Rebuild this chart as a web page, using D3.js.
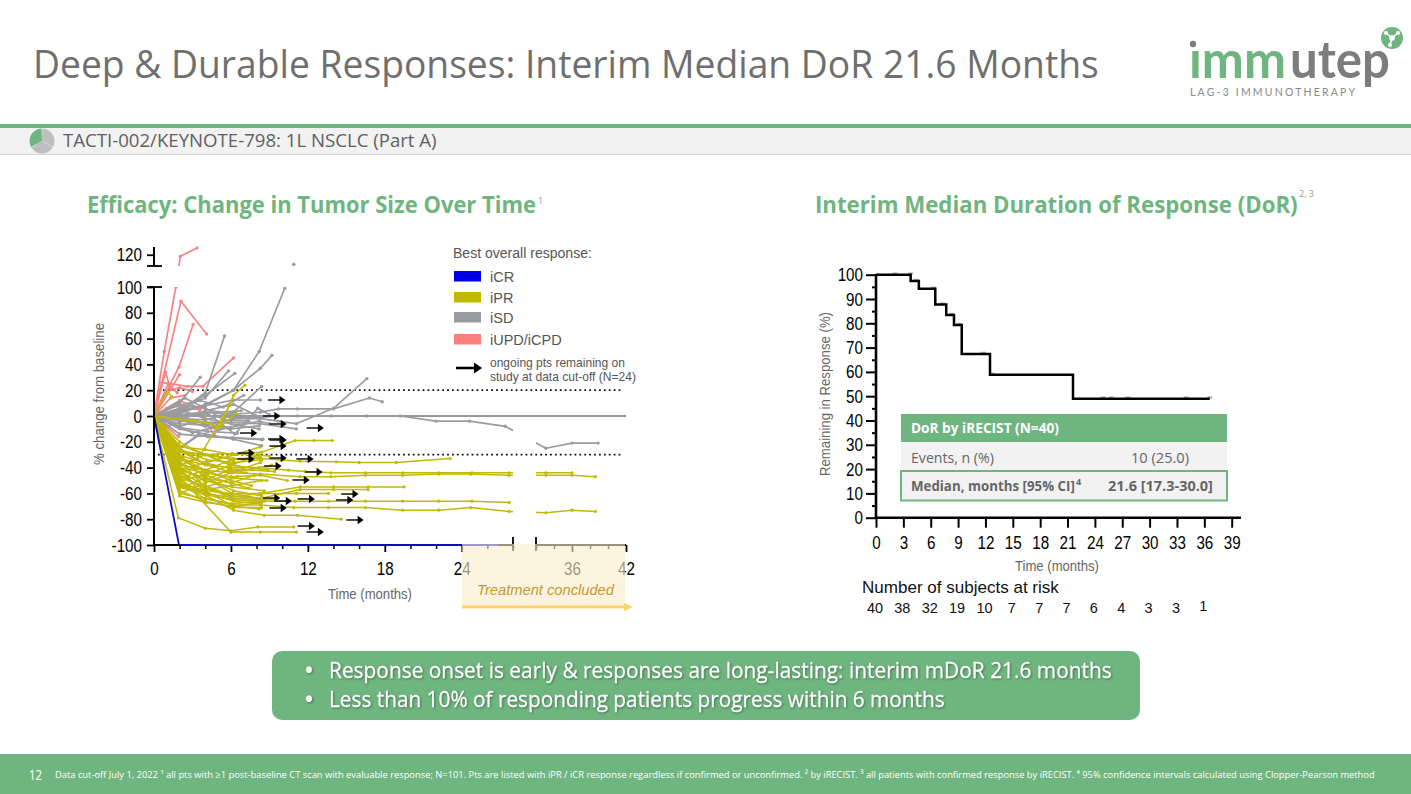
<!DOCTYPE html>
<html><head><meta charset="utf-8">
<script src="https://cdn.jsdelivr.net/npm/d3@7"></script>
<style>html,body{margin:0;padding:0;background:#fff}svg{display:block}text{font-family:"Liberation Sans",Arial,sans-serif}</style>
</head><body><svg id="c" width="1411" height="794"></svg>
<script>
const titleText="Deep & Durable Responses: Interim Median DoR 21.6 Months";
const bannerText="TACTI-002/KEYNOTE-798: 1L NSCLC (Part A)";
const leftHeading="Efficacy: Change in Tumor Size Over Time";
const rightHeading="Interim Median Duration of Response (DoR)";
const bullets=["Response onset is early & responses are long-lasting: interim mDoR 21.6 months","Less than 10% of responding patients progress within 6 months"];
const footnote="Data cut-off July 1, 2022 \u00b9 all pts with \u22651 post-baseline CT scan with evaluable response; N=101. Pts are listed with iPR / iCR response regardless if confirmed or unconfirmed. \u00b2 by iRECIST. \u00b3 all patients with confirmed response by iRECIST. \u2074 95% confidence intervals calculated using Clopper-Pearson method";
const legendLabels=["iCR","iPR","iSD","iUPD/iCPD"];
const legendColors=["#0000e6","#c2ba00","#9a9aa2","#ff8080"];
const yTicksLeft=[-100,-80,-60,-40,-20,0,20,40,60,80,100,120];
const xTicksLeft=[0,6,12,18,24,36,42];
const xMinorLeft=[2,4,8,10,14,16,20,22,26,28,32,34,38,40];
const iCR=[[[0,0],[1.95,-100],[4,-100],[6,-100],[8,-100],[10.2,-100],[12,-100],[14,-100],[16,-100],[18.1,-100],[20.4,-100],[23.2,-100],[26.8,-100]]];
const iPR=[
[[0,0],[2,-28],[4,-30],[6.2,-33],[8.3,-33],[11.4,-35],[14.2,-35.5],[16,-36],[18.9,-36],[23.1,-33]],
[[0,0],[2,-33],[4,-38],[6,-40],[8.2,-40],[10.5,-42],[11.8,-43],[13.8,-44],[16.5,-44],[19.4,-44],[22.2,-44],[24.8,-44],[27.7,-44],[33.1,-44],[36,-44]],
[[0,0],[2,-38],[4,-42],[6,-44],[8.3,-45],[11.4,-47],[13.8,-47],[16.5,-46],[19.4,-46],[22.2,-45],[24.7,-45],[27.7,-46],[33.1,-46],[36,-46],[38.6,-47]],
[[0,0],[2,-50],[4,-60],[6,-63],[8.3,-60],[11.4,-55],[14,-55],[16.7,-55],[19.5,-55]],
[[0,0],[2,-46],[4,-56],[6,-62],[8.3,-64],[11.4,-57],[14,-57],[16.7,-57]],
[[0,0],[2,-52],[4,-58],[6,-60],[8.4,-60],[11.1,-60],[13.6,-60]],
[[0,0],[2,-55],[4,-61],[6.2,-65],[8.3,-66],[11,-66],[13.6,-66],[16.5,-66],[19.4,-66],[22.2,-66],[24.8,-66],[27.7,-67]],
[[0,0],[2,-60],[4,-64],[6.2,-69],[8.3,-69],[10.9,-71],[13.6,-71],[16.5,-71],[19.4,-73],[22.2,-73],[24.7,-71],[27.7,-74],[33.1,-75],[36,-73],[38.6,-74]],
[[0,0],[2,-52],[4.1,-62],[6.2,-73],[8.6,-77],[11.2,-77],[14.6,-80]],
[[0,0],[1.9,-79],[4,-87],[6,-89],[8.1,-86],[10.9,-86]],
[[0,0],[2,-47],[6,-90],[8.3,-90],[11.1,-90]],
[[0,0],[2,-24],[4,-26],[6.1,-30],[8.4,-28],[11,-19],[12.5,-19],[13.9,-19]],
[[0,0],[2,-40],[4,-44],[6,-47],[8.3,-46],[10.4,-50]],
[[0,0],[1.9,-22],[4,-30],[6.1,-29],[9,-31]],
[[0,0],[2,-26],[4.1,-34],[6.2,-36],[8.4,-34]],
[[0,0],[1.8,-30],[3.9,-36],[6,-41],[9.4,-43]],
[[0,0],[2.1,-34],[4.2,-44],[6.2,-48],[8.8,-50]],
[[0,0],[2,-36],[4,-46],[6,-52],[7.4,-56]],
[[0,0],[1.9,-40],[4,-50],[6.1,-55],[8.6,-58]],
[[0,0],[2,-42],[4.1,-48],[6.2,-58],[8.4,-62]],
[[0,0],[2.2,-44],[4,-54],[6,-64],[9.5,-65]],
[[0,0],[1.9,-48],[4,-54],[6.1,-62],[7.2,-63]],
[[0,0],[2,-54],[4.2,-60],[6.2,-66],[8.3,-68]],
[[0,0],[2,-58],[4,-66],[6.2,-71],[8.4,-71]],
[[0,0],[2,-62],[4.1,-67],[6.2,-70],[8.4,-67]],
[[0,0],[2,-30],[4,-48],[6.1,-60],[8.3,-64]],
[[0,0],[2,-60],[4,-52],[6,-44],[8.3,-36]],
[[0,0],[2,-50],[4.2,-45],[6,-38],[8.2,-30]],
[[0,0],[2,-42],[4.1,-36],[6.3,-30],[8.3,-24]],
[[0,0],[2,-56],[4,-48],[6,-52],[7.8,-46]],
[[0,0],[2.1,-38],[4,-30],[5.9,-38],[8.9,-42]],
[[0,0],[1.6,-35],[3.5,-58],[6,-54],[8.4,-50]],
[[0,0],[2,-20],[3.1,-26],[5,-34],[7,-40]],
[[0,0],[2,-48],[4,-42],[6,-50],[7.6,-54]],
[[0,0],[2,-44],[4,-58],[6.2,-70],[8.2,-72]],
[[0,0],[1.9,-52],[4,-64],[6,-68],[8.6,-66]],
[[0,0],[2,-40],[3.9,-50],[5.8,-42],[7.2,-44]],
[[0,0],[2,-32],[4,-42],[6,-34],[8.2,-32]],
[[0,0],[2.2,-28],[4.2,-38],[6.1,-44],[9.2,-38]],
[[0,0],[1.9,-34],[4,-55],[5,-52],[6.5,-47]],
[[0,0],[2,-27],[4,-30],[6.2,-34],[8.3,-32]],
[[0,0],[3,-4],[4.1,-5],[5.1,-9],[6.2,16],[7.1,24]],
[[0,0],[4.1,-5],[5.1,-9],[6.4,2]],
[[0,0],[2,-25],[3.4,-34],[5.9,8]],
[[0,0],[1,19],[1.4,15]]
];
const iSD=[
[[0,0],[2,1],[4,0],[6.2,-1],[8.3,-1],[9.7,0],[11.2,0],[13.8,0],[16.6,0],[19.2,0],[22,-4],[24.6,-4],[27.4,-8],[33.1,-25],[36,-21],[38.9,-21]],
[[0,0],[2,3],[4,8],[6.2,20],[8.2,50],[10.2,99],[10.9,111.5]],
[[0,0],[2,4],[4,18],[5.5,62]],
[[0,0],[2,2],[4,9],[6.2,20],[8.3,37],[9.2,47]],
[[0,0],[2,6],[4,14],[5.8,35]],
[[0,0],[2,5],[4,16],[6.3,33]],
[[0,0],[2,10],[3.6,30]],
[[0,0],[2,-2],[4,-3],[6.2,3],[8.4,23]],
[[0,0],[2,4],[4,8],[6.2,12.4],[8.3,12.4]],
[[0,0],[2,-1],[4.2,2],[6.3,-14],[8.1,6],[9,1]],
[[0,0],[2,-4],[4,-5],[6,-5],[8.3,-6],[11.1,-10]],
[[0,0],[2,-6],[4.2,-7],[6.2,-2],[8.3,-2],[9.7,-4],[11.1,-6],[14,6],[16.6,29]],
[[0,0],[2,1],[4,3],[6,1],[8.3,3],[9.7,5.5],[11.2,5.5],[14,5.5],[16.8,14],[17.8,11]],
[[0,0],[2,-3],[4,-8],[6,-10],[8.2,-7.5]],
[[0,0],[2,-9],[4.2,-12],[6.5,-13.2]],
[[0,0],[2,-25],[3.5,-15],[6.1,-17],[8.5,-18]],
[[0,0],[2,-14],[4.2,-16],[6.2,-17],[8.4,-18.4]],
[[0,0],[2,-10],[4,-14],[6.2,-18],[8.4,-23]],
[[0,0],[2,-2],[4,-6],[5.8,-9],[8.2,-4],[9,-6]],
[[0,0],[1.5,-18],[2,-25],[3.5,-14]],
[[0,0],[2,-3],[4,4],[6.2,9],[8.3,-1]],
[[0,0],[2,5],[4,-2],[6,-6],[8.2,-10]],
[[0,0],[1.5,3],[3,8],[5,3],[6.8,4]],
[[0,0],[1.8,8],[3.6,12],[5.4,7],[7,16]],
[[0,0],[2,-8],[3.4,-4],[5,-11],[6.6,-7]],
[[0,0],[1.4,-6],[3,-13],[4.6,-9],[6,2]],
[[0,0],[2.4,14],[4,6],[5.4,-3],[7.4,-4]]
];
const iUPD=[
[[0,0],[0.8,50],[1.7,100],[2.05,118.6],[3.35,126]],
[[0,0],[2.1,89],[4.1,63.5]],
[[0,0],[1.95,38],[3.05,71]],
[[0,0],[2,32]],
[[0,0],[0.6,26],[2.6,23],[3.8,23],[6.2,45]],
[[0,0],[1,19],[2,22],[3,19]],
[[0,0],[1.6,9],[2.6,6],[3.6,5]],
[[0,0],[2,12],[3.4,6],[4,-5],[4.7,-14]],
[[0,0],[1.9,-16]],
[[0,0],[1,6],[2.2,8],[3,7]],
[[0,0],[1,-8],[2,-5]],
[[0,0],[1.1,25],[1.8,18]],
[[0,0],[1.3,14],[2.4,16]],
[[0,0],[0.9,34],[1.3,21]]
];
const ongoingArrows=[[8.9,12.4],[8.5,0],[9,-6.2],[11.9,-9.3],[6.7,-13.2],[8.9,-17.8],[9,-18.6],[9,-23.3],[6.5,-28.7],[6.5,-33.3],[9,-32.6],[11.1,-33.3],[8.6,-38.8],[11.8,-43.4],[10.8,-49.6],[14.6,-60.5],[8.5,-63.6],[9.4,-65.9],[11.2,-64.3],[14.2,-65.1],[9,-71.3],[15,-80.6],[11.2,-85.3],[11.9,-89.9]];
const kmTimes=[0,3.8,4.7,6.5,7.7,8.55,9.4,12.5,21.6,36.6];
const kmSurvival=[100,97.4,94.2,87.7,83.4,79.3,67.4,58.8,49,49];
const kmCensorT=[2.1,3.8,4.4,6.3,7.3,8.3,9.1,11.75,12.7,24.9,25.8,27.6,34,36.6];
const kmCensorS=[100,100,97.4,94.2,87.7,83.4,79.3,67.4,58.8,49,49,49,49,49];
const riskTimes=[0,3,6,9,12,15,18,21,24,27,30,33,36];
const riskCounts=[40,38,32,19,10,7,7,7,6,4,3,3,1];
const kmXTicks=d3.range(0,40,3);

const svg=d3.select("#c");
const GREEN="#6fb57f",OS='"Open Sans",sans-serif';
function txt(x,y,s,o={}){const t=svg.append("text").attr("x",x).attr("y",y).text(s)
 .attr("fill",o.fill||"#000").attr("font-size",o.size||14).attr("text-anchor",o.anchor||"start");
 if(o.font)t.style("font-family",o.font);if(o.weight)t.attr("font-weight",o.weight);if(o.italic)t.attr("font-style","italic");
 if(o.len){
  if(o.rot)t.attr("textLength",o.len).attr("lengthAdjust","spacingAndGlyphs");
  else if(o.adjust)t.attr("textLength",o.len).attr("lengthAdjust",o.adjust);
  else{const sx=o.len/t.node().getComputedTextLength();t.attr("transform",`translate(${x},${y}) scale(${sx},1) translate(${-x},${-y})`);}
 }
 return t;}
function sqTicks(g,sx){g.selectAll("text").attr("transform",`scale(${sx},1)`).attr("fill","#000");}
const TICK_FONT=19,TICK_SX=.8;

// slide chrome
txt(33,78,titleText,{size:38,font:OS,fill:"#6f6f6f",len:1066});
svg.append("rect").attr("x",0).attr("y",128).attr("width",1411).attr("height",27).attr("fill","#f2f2f2");
svg.append("rect").attr("x",0).attr("y",154).attr("width",1411).attr("height",1).attr("fill","#d4d4d4");
svg.append("rect").attr("x",0).attr("y",124).attr("width",1411).attr("height",4).attr("fill",GREEN);
const pie=svg.append("g").attr("transform","translate(42,141)");
d3.pie().sort(null)([1,1,1]).forEach((d,i)=>{
 const a=d3.arc().innerRadius(0).outerRadius(12.5).padAngle(0.06);
 pie.append("path").attr("d",a(d)).attr("fill",["#bfbfbf","#bfbfbf",GREEN][i]);
});
txt(63,147.5,bannerText,{size:19,font:OS,fill:"#606060",len:374});
txt(87,213,leftHeading,{size:24,font:OS,weight:700,fill:GREEN,len:449});
txt(538,204,"1",{size:9,font:OS,fill:"#999"});
txt(815,213,rightHeading,{size:24,font:OS,weight:700,fill:GREEN,len:483});
txt(1299,197,"2, 3",{size:9,font:OS,fill:"#999"});

// logo
txt(1189,78,"\u0131mm",{size:52,font:"Lato,sans-serif",weight:700,fill:GREEN,len:97});
txt(1290,78,"utep",{size:52,font:"Lato,sans-serif",weight:700,fill:"#7d7d7d",len:100});
svg.append("circle").attr("cx",1193).attr("cy",44).attr("r",3.2).attr("fill","#7d7d7d");
txt(1190,96,"LAG-3 IMMUNOTHERAPY",{size:10.5,font:"Lato,sans-serif",fill:"#8a8a8a",len:165,adjust:"spacing"});
svg.append("circle").attr("cx",1392).attr("cy",38).attr("r",11).attr("fill",GREEN);
[[1386,33,1392,38],[1398,33,1392,38],[1392,38,1390,45]].forEach(l=>svg.append("line").attr("x1",l[0]).attr("y1",l[1]).attr("x2",l[2]).attr("y2",l[3]).attr("stroke","#fff").attr("stroke-width",1.5));
[[1386,33,2],[1398,33,2],[1390,45,2],[1392,38,2.8]].forEach(c=>svg.append("circle").attr("cx",c[0]).attr("cy",c[1]).attr("r",c[2]).attr("fill","#fff"));

// left chart scales
const x=d3.scaleLinear().domain([0,28,32,42]).range([154,513,536,626]);
const y=d3.scaleLinear().domain([-100,100,110,126]).range([545,287,266,248]);
const defs=svg.append("defs");
defs.append("clipPath").attr("id","gapX").selectAll("rect").data([[0,513],[536,700]]).join("rect")
 .attr("x",d=>d[0]).attr("width",d=>d[1]-d[0]).attr("y",0).attr("height",794);
defs.append("clipPath").attr("id","gapY").selectAll("rect").data([[0,266],[287,794]]).join("rect")
 .attr("y",d=>d[0]).attr("height",d=>d[1]-d[0]).attr("x",0).attr("width",1411);

// zero + reference lines
svg.append("line").attr("x1",x(0)).attr("x2",x(42)).attr("y1",y(0)).attr("y2",y(0)).attr("stroke","#333").attr("stroke-width",1.1);
[20,-30].forEach(v=>svg.append("line").attr("x1",158).attr("x2",622).attr("y1",y(v)).attr("y2",y(v))
 .attr("stroke","#111").attr("stroke-width",1.7).attr("stroke-dasharray","1.8 3.1"));

const plot=svg.append("g").attr("clip-path","url(#gapX)").append("g").attr("clip-path","url(#gapY)");
const ln=d3.line().x(d=>x(d[0])).y(d=>y(d[1]));
function drawGroup(data,col,w,r){
 const g=plot.append("g");
 g.selectAll("path").data(data).join("path").attr("d",ln).attr("fill","none").attr("stroke",col).attr("stroke-width",w).attr("stroke-linejoin","round");
 g.selectAll("circle").data(data.flatMap(s=>s.slice(1))).join("circle").attr("cx",d=>x(d[0])).attr("cy",d=>y(d[1])).attr("r",r).attr("fill",col);
}
drawGroup(iUPD,"#f88585",1.7,1.7);
drawGroup(iSD,"#9c9ca0",1.7,1.7);
drawGroup(iPR,"#c1b907",1.5,1.6);
drawGroup(iCR,"#0c0cc8",1.8,0.9);

// left axes
const axisCol="#000";
const yLow=svg.append("g").attr("transform","translate(154,0)").call(d3.axisLeft(y).tickValues(yTicksLeft).tickSize(7).tickFormat(d=>String(d)));
yLow.select(".domain").remove();yLow.selectAll("line").attr("stroke",axisCol).attr("stroke-width",1.8);
yLow.selectAll("text").attr("font-size",TICK_FONT).style("font-family",'"Liberation Sans"').attr("x",-12/TICK_SX);sqTicks(yLow,TICK_SX);
[[287,545],[247,266]].forEach(a=>svg.append("line").attr("x1",154).attr("x2",154).attr("y1",a[0]).attr("y2",a[1]).attr("stroke",axisCol).attr("stroke-width",2));
[y(100),y(110)].forEach(v=>svg.append("line").attr("x1",147).attr("x2",162).attr("y1",v).attr("y2",v).attr("stroke",axisCol).attr("stroke-width",1.8));

[[0,28],[32,42]].forEach(s=>svg.append("line").attr("x1",x(s[0])).attr("x2",x(s[1])).attr("y1",545).attr("y2",545).attr("stroke","#000").attr("stroke-width",2));
svg.append("line").attr("x1",x(iCR[0][1][0])).attr("x2",x(iCR[0][12][0])).attr("y1",y(-100)).attr("y2",y(-100)).attr("stroke","#0c0cc8").attr("stroke-width",1.8);
const xMaj=svg.append("g").attr("transform","translate(0,545)").call(d3.axisBottom(x).tickValues(xTicksLeft).tickSize(7).tickPadding(10).tickFormat(d=>String(d)));
xMaj.select(".domain").remove();xMaj.selectAll("line").attr("stroke","#000").attr("stroke-width",1.8);
xMaj.selectAll("text").attr("font-size",TICK_FONT).style("font-family",'"Liberation Sans"');
xMaj.selectAll("text").attr("transform",`scale(${TICK_SX},1)`).attr("fill","#000");
const xMin=svg.append("g").attr("transform","translate(0,545)").call(d3.axisBottom(x).tickValues(xMinorLeft).tickSize(4).tickFormat(""));
xMin.select(".domain").remove();xMin.selectAll("line").attr("stroke","#000").attr("stroke-width",1.5);
[x(28),x(32)].forEach(v=>svg.append("line").attr("x1",v).attr("x2",v).attr("y1",537).attr("y2",551).attr("stroke","#000").attr("stroke-width",1.8));
txt(370,599,"Time (months)",{size:15,fill:"#666",anchor:"middle",len:84});
txt(0,0,"% change from baseline",{size:15,fill:"#666",anchor:"middle",len:142,rot:true}).attr("transform","translate(104,394) rotate(-90)");

// arrows
const ARROW_LEN=1.35;
svg.append("g").selectAll("g").data(ongoingArrows).join("g").each(function(d){
 const x0=x(d[0]),x1=x(d[0]+ARROW_LEN),yy=y(d[1]);
 d3.select(this).append("line").attr("x1",x0).attr("x2",x1-5).attr("y1",yy).attr("y2",yy).attr("stroke","#111").attr("stroke-width",1.5);
 d3.select(this).append("path").attr("d",`M${x1-6},${yy-4.2}L${x1},${yy}L${x1-6},${yy+4.2}Z`).attr("fill","#000");
});

// treatment-concluded overlay
svg.append("rect").attr("x",462).attr("y",544).attr("width",163).attr("height",63).attr("fill","#fceecb").attr("opacity",.62);
txt(545.5,595,"Treatment concluded",{size:14.5,italic:true,fill:"#bf9a37",anchor:"middle",len:137});
svg.append("line").attr("x1",462).attr("x2",626).attr("y1",607).attr("y2",607).attr("stroke","#fdd566").attr("stroke-width",3);
svg.append("path").attr("d","M624,603 L633,607 L624,611Z").attr("fill","#fdd566");

// legend
txt(453,258,"Best overall response:",{size:14.5,fill:"#555",len:139});
const legY=[271,292,312,334];
legendLabels.forEach((l,i)=>{
 svg.append("rect").attr("x",454).attr("y",legY[i]).attr("width",27).attr("height",10.5).attr("fill",legendColors[i]);
 txt(490,legY[i]+10.5,l,{size:14.5,fill:"#555"});
});
svg.append("line").attr("x1",456).attr("x2",476).attr("y1",368).attr("y2",368).attr("stroke","#000").attr("stroke-width",2.6);
svg.append("path").attr("d","M474,362.5 L482,368 L474,373.5Z").attr("fill","#000");
txt(490,367,"ongoing pts remaining on",{size:12.5,fill:"#555",len:135});
txt(490,381,"study at data cut-off (N=24)",{size:12.5,fill:"#555",len:146});

// KM chart
const kx=d3.scaleLinear().domain([0,39]).range([876,1231.7]);
const ky=d3.scaleLinear().domain([0,100]).range([517.7,274.7]);
const kmPoints=kmTimes.map((t,i)=>[t,kmSurvival[i]]);
const kmLine=d3.line().x(d=>kx(d[0])).y(d=>ky(d[1])).curve(d3.curveStepAfter);
svg.append("g").selectAll("path").data(kmCensorT).join("path")
 .attr("d",(t,i)=>`M${kx(t)-2.5},${ky(kmCensorS[i])-1.2}h5`).attr("stroke","#aaa").attr("stroke-width",2).attr("fill","none");
svg.append("path").attr("d",kmLine(kmPoints)).attr("fill","none").attr("stroke","#000").attr("stroke-width",2.5);
const kyA=svg.append("g").attr("transform","translate(876,0)").call(d3.axisLeft(ky).tickValues(d3.range(0,101,10)).tickSize(10));
kyA.select(".domain").remove();kyA.selectAll("line").attr("stroke","#000").attr("stroke-width",2);
kyA.selectAll("text").attr("font-size",TICK_FONT).style("font-family",'"Liberation Sans"').attr("x",-13/TICK_SX);sqTicks(kyA,TICK_SX);
const kyB=svg.append("g").attr("transform","translate(876,0)").call(d3.axisLeft(ky).tickValues(d3.range(5,100,10)).tickSize(4).tickFormat(""));
kyB.select(".domain").remove();kyB.selectAll("line").attr("stroke","#000").attr("stroke-width",2);
const kxA=svg.append("g").attr("transform","translate(0,517.7)").call(d3.axisBottom(kx).tickValues(kmXTicks).tickSize(10).tickPadding(8));
kxA.select(".domain").remove();kxA.selectAll("line").attr("stroke","#000").attr("stroke-width",2);
kxA.selectAll("text").attr("font-size",TICK_FONT).style("font-family",'"Liberation Sans"');sqTicks(kxA,TICK_SX);
svg.append("line").attr("x1",876).attr("x2",876).attr("y1",274).attr("y2",519).attr("stroke","#000").attr("stroke-width",2.6);
svg.append("line").attr("x1",875).attr("x2",1241).attr("y1",517.7).attr("y2",517.7).attr("stroke","#000").attr("stroke-width",2.6);
txt(1057,571,"Time (months)",{size:15,fill:"#666",anchor:"middle",len:84});
txt(0,0,"Remaining in Response (%)",{size:15,fill:"#666",anchor:"middle",len:164,rot:true}).attr("transform","translate(830,394) rotate(-90)");
txt(862,593,"Number of subjects at risk",{size:16,fill:"#111",len:197});
riskCounts.forEach((c,i)=>txt(kx(riskTimes[i])-1,i===12?611:613,c,{size:14.5,fill:"#111",anchor:"middle"}));

// table
svg.append("rect").attr("x",901).attr("y",414).attr("width",326).attr("height",28).attr("fill",GREEN);
svg.append("rect").attr("x",901).attr("y",442).attr("width",326).attr("height",29).attr("fill","#f2f2f2");
svg.append("rect").attr("x",901).attr("y",471).attr("width",326).attr("height",29.5).attr("fill","#f2f2f2").attr("stroke",GREEN).attr("stroke-width",2);
txt(911,433,"DoR by iRECIST (N=40)",{size:14.5,font:OS,weight:700,fill:"#fff",len:148});
txt(911,463,"Events, n (%)",{size:14.5,font:OS,fill:"#666",len:83});
txt(1131,463,"10 (25.0)",{size:14.5,font:OS,fill:"#666",len:58});
txt(911,491,"Median, months [95% CI]",{size:14.5,font:OS,weight:700,fill:"#666",len:164});
txt(1076,485,"4",{size:9,font:OS,weight:700,fill:"#666"});
txt(1108,491,"21.6 [17.3-30.0]",{size:14.5,font:OS,weight:700,fill:"#666",len:105});

// bullets box
svg.append("rect").attr("x",272).attr("y",651).attr("width",868).attr("height",69).attr("rx",10).attr("fill",GREEN);
[[bullets[0],678,783],[bullets[1],707,616]].forEach(b=>{
 txt(305,b[1],"\u2022",{size:21,font:OS,weight:700,fill:"#fff"}).style("filter","drop-shadow(1px 1px 1px rgba(0,0,0,.35))");
 txt(329,b[1],b[0],{size:21,font:OS,fill:"#fff",len:b[2]}).attr("stroke","#fff").attr("stroke-width",.25).style("filter","drop-shadow(1px 1px 1px rgba(0,0,0,.35))");
});

// footer
svg.append("rect").attr("x",0).attr("y",754).attr("width",1411).attr("height",40).attr("fill",GREEN);
txt(29,780,"12",{size:15,font:OS,fill:"#fff",len:13});
txt(55,778,footnote,{size:9.5,font:OS,fill:"#fff",len:1323});
</script></body></html>
